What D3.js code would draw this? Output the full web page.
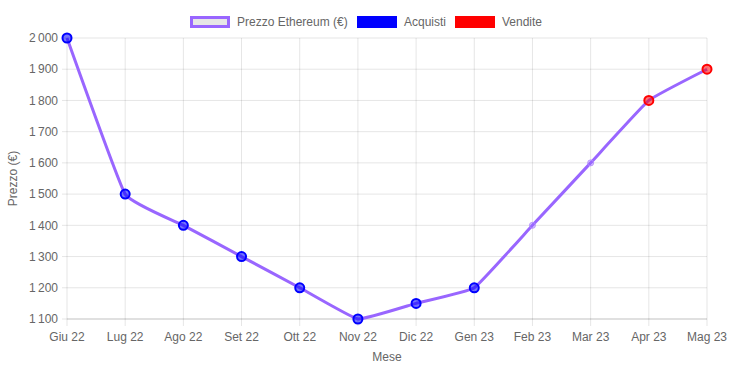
<!DOCTYPE html>
<html>
<head>
<meta charset="utf-8">
<script src="https://cdn.jsdelivr.net/npm/d3@7"></script>
<style>
  body { margin: 0; background: #fff; }
  svg { display: block; font-family: "Liberation Sans", Arial, Helvetica, sans-serif; }
</style>
</head>
<body>
<svg id="chart" width="755" height="373"></svg>
<script>
// Chart data
const months = ["Giu 22", "Lug 22", "Ago 22", "Set 22", "Ott 22", "Nov 22",
  "Dic 22", "Gen 23", "Feb 23", "Mar 23", "Apr 23", "Mag 23"];
const prices = [2000, 1500, 1400, 1300, 1200, 1100, 1150, 1200, 1400, 1600, 1800, 1900];
const buys = ["Giu 22", "Lug 22", "Ago 22", "Set 22", "Ott 22", "Nov 22", "Dic 22", "Gen 23"];
const sells = ["Apr 23", "Mag 23"];
const yTicks = [1100, 1200, 1300, 1400, 1500, 1600, 1700, 1800, 1900, 2000];

const LINE = "#9966ff";
const GRID = "rgba(0,0,0,0.1)";
const TXT = "#666";

const svg = d3.select("#chart");
const m = { left: 67, right: 48, top: 38, bottom: 54 };
const W = 755, H = 373;

const x = d3.scalePoint().domain(months).range([m.left, W - m.right]);
const y = d3.scaleLinear().domain([1100, 2000]).range([H - m.bottom, m.top]);

const loc = d3.formatLocale({ decimal: ",", thousands: "\u202f", grouping: [3], currency: ["", " €"] });
const fmt = loc.format(",d");

// grid
const gGrid = svg.append("g");
gGrid.selectAll("line.h").data(yTicks).join("line")
  .attr("x1", m.left - 5).attr("x2", W - m.right)
  .attr("y1", d => y(d)).attr("y2", d => y(d))
  .attr("stroke", GRID);
gGrid.selectAll("line.v").data(months).join("line")
  .attr("x1", d => x(d)).attr("x2", d => x(d))
  .attr("y1", m.top).attr("y2", H - m.bottom + 7)
  .attr("stroke", GRID);
// bottom axis line a bit stronger
svg.append("line").attr("x1", m.left).attr("x2", W - m.right)
  .attr("y1", y(1100)).attr("y2", y(1100)).attr("stroke", "rgba(0,0,0,0.15)");

// tick labels
svg.append("g").selectAll("text").data(yTicks).join("text")
  .attr("x", m.left - 9).attr("y", d => y(d)).attr("dy", "0.35em")
  .attr("text-anchor", "end").attr("fill", TXT).style("font-size", "12px")
  .text(d => fmt(d));
svg.append("g").selectAll("text").data(months).join("text")
  .attr("x", d => x(d)).attr("y", H - m.bottom + 22)
  .attr("text-anchor", "middle").attr("fill", TXT).style("font-size", "12px")
  .text(d => d);

// axis titles
svg.append("text").attr("x", 387).attr("y", 361).attr("text-anchor", "middle")
  .attr("fill", TXT).style("font-size", "12px").text("Mese");
svg.append("text").attr("transform", `translate(17,${(m.top + H - m.bottom) / 2}) rotate(-90)`)
  .attr("text-anchor", "middle").attr("fill", TXT).style("font-size", "12px").text("Prezzo (€)");

// price line
const pts = months.map((mo, i) => ({ mo, v: prices[i] }));
const line = d3.line().x(d => x(d.mo)).y(d => y(d.v)).curve(d3.curveCardinal.tension(0.7));
svg.append("path").datum(pts)
  .attr("d", line).attr("fill", "none").attr("stroke", LINE)
  .attr("stroke-width", 3).attr("stroke-linejoin", "round");

// points
const marked = d => buys.includes(d.mo) || sells.includes(d.mo);
svg.append("g").selectAll("circle").data(pts).join("circle")
  .attr("cx", d => x(d.mo)).attr("cy", d => y(d.v))
  .attr("r", d => marked(d) ? 4.5 : 3)
  .attr("fill", d => buys.includes(d.mo) ? "rgba(0,0,255,0.55)" : sells.includes(d.mo) ? "rgba(255,0,0,0.55)" : "rgba(153,102,255,0.35)")
  .attr("stroke", d => buys.includes(d.mo) ? "#0000ff" : sells.includes(d.mo) ? "#ff0000" : "rgba(180,140,255,0.9)")
  .attr("stroke-width", d => marked(d) ? 2 : 1);

// legend
const legend = [
  { label: "Prezzo Ethereum (€)", fill: "#e6e6e6", stroke: LINE, sw: 3, x: 190 },
  { label: "Acquisti", fill: "#0000ff", stroke: "#0000ff", sw: 0, x: 357 },
  { label: "Vendite", fill: "#ff0000", stroke: "#ff0000", sw: 0, x: 455 }
];
const lg = svg.append("g").selectAll("g").data(legend).join("g")
  .attr("transform", d => `translate(${d.x},15)`);
lg.append("rect")
  .attr("x", d => d.sw / 2).attr("y", d => 1 + d.sw / 2)
  .attr("width", d => 40 - d.sw).attr("height", d => 12 - d.sw)
  .attr("fill", d => d.fill).attr("stroke", d => d.stroke).attr("stroke-width", d => d.sw);
lg.append("text").attr("x", 47).attr("y", 7).attr("dy", "0.35em")
  .attr("fill", TXT).style("font-size", "12px").text(d => d.label);
</script>
</body>
</html>
